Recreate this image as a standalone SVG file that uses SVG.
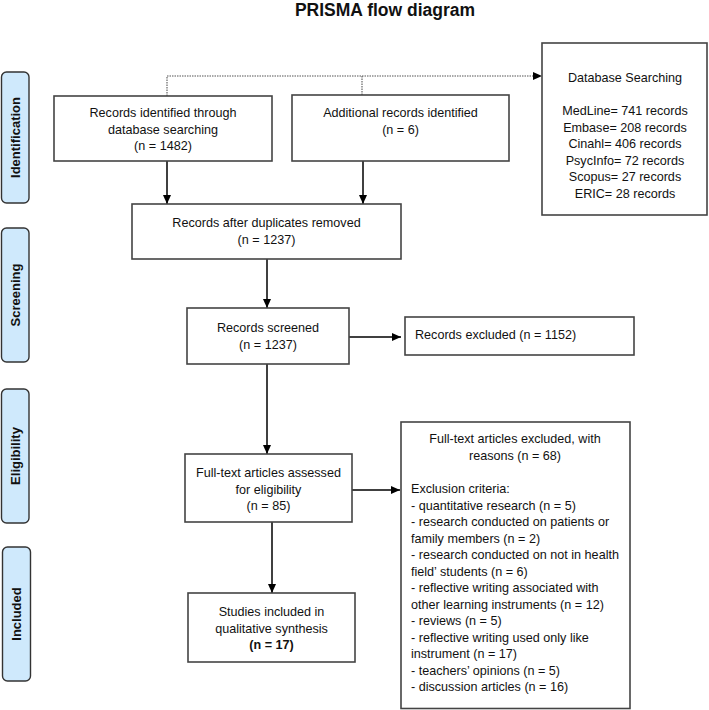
<svg xmlns="http://www.w3.org/2000/svg" width="709" height="710" viewBox="0 0 709 710">
<defs>
<marker id="ah" markerUnits="userSpaceOnUse" markerWidth="9" markerHeight="8" refX="9" refY="4" orient="auto">
<path d="M0,0 L9,4 L0,8 z" fill="#000"/>
</marker>
<style>
.box{fill:#fff;stroke:#444;stroke-width:1.6}
.side{fill:#cfe9fc;stroke:#333;stroke-width:1.4}
.t{font-family:"Liberation Sans",Arial,sans-serif;font-size:12.6px;fill:#111}
.c{text-anchor:middle}
.sl{font-family:"Liberation Sans",Arial,sans-serif;font-size:13px;font-weight:bold;fill:#111;text-anchor:middle}
.arr{stroke:#000;stroke-width:1.5;fill:none;marker-end:url(#ah)}
.dot{stroke:#555;stroke-width:1.1;fill:none;stroke-dasharray:1.5 1}
</style>
</defs>
<rect width="709" height="710" fill="#fff"/>
<text x="385" y="16" font-family="Liberation Sans,Arial,sans-serif" font-size="17.5" font-weight="bold" fill="#111" text-anchor="middle">PRISMA flow diagram</text>

<g id="side-identification"><rect class="side" x="1.5" y="72" width="27.5" height="131" rx="5"/><text class="sl" transform="translate(20,137.5) rotate(-90)">Identification</text></g>
<g id="side-screening"><rect class="side" x="1.5" y="228" width="27.5" height="134" rx="5"/><text class="sl" transform="translate(20,295) rotate(-90)">Screening</text></g>
<g id="side-eligibility"><rect class="side" x="1.5" y="389" width="27.5" height="134" rx="5"/><text class="sl" transform="translate(20,456) rotate(-90)">Eligibility</text></g>
<g id="side-included"><rect class="side" x="2.5" y="547" width="28" height="134" rx="5"/><text class="sl" transform="translate(21,614) rotate(-90)">Included</text></g>

<g id="connectors">
<path class="dot" d="M167,96 V76 H538"/>
<path class="dot" d="M362,95 V76"/>
<path d="M533,72 L542,76 L533,80 z" fill="#000"/>
<path class="arr" d="M167,161 V204"/>
<path class="arr" d="M363,161 V204"/>
<path class="arr" d="M267,259 V308"/>
<path class="arr" d="M349,337 H401"/>
<path class="arr" d="M267,364 V454"/>
<path class="arr" d="M352,490 H400"/>
<path class="arr" d="M272,522 V593"/>
</g>

<g id="n-db-search"><rect class="box" x="54" y="96" width="218" height="65"/>
<text class="t c" x="163" y="117">Records identified through</text>
<text class="t c" x="163" y="133.5">database searching</text>
<text class="t c" x="163" y="150">(n = 1482)</text></g>

<g id="n-additional"><rect class="box" x="292" y="95" width="217" height="66"/>
<text class="t c" x="400.5" y="117">Additional records identified</text>
<text class="t c" x="400.5" y="133.5">(n = 6)</text></g>

<g id="n-databases"><rect class="box" x="542" y="43" width="165" height="172"/>
<text class="t c" x="625" y="82">Database Searching</text>
<text class="t c" x="625" y="115">MedLine= 741 records</text>
<text class="t c" x="625" y="131.5">Embase= 208 records</text>
<text class="t c" x="625" y="148">Cinahl= 406 records</text>
<text class="t c" x="625" y="164.5">PsycInfo= 72 records</text>
<text class="t c" x="625" y="181">Scopus= 27 records</text>
<text class="t c" x="625" y="197.5">ERIC= 28 records</text></g>

<g id="n-dedup"><rect class="box" x="132" y="204" width="269" height="55"/>
<text class="t c" x="266.5" y="227">Records after duplicates removed</text>
<text class="t c" x="266.5" y="243.5">(n = 1237)</text></g>

<g id="n-screened"><rect class="box" x="187" y="308" width="162" height="56"/>
<text class="t c" x="268" y="332">Records screened</text>
<text class="t c" x="268" y="348.5">(n = 1237)</text></g>

<g id="n-excluded"><rect class="box" x="405" y="317" width="229" height="38"/>
<text class="t" x="415" y="339">Records excluded (n = 1152)</text></g>

<g id="n-fulltext"><rect class="box" x="185" y="454" width="167" height="68"/>
<text class="t c" x="268.5" y="477">Full-text articles assessed</text>
<text class="t c" x="268.5" y="493.5">for eligibility</text>
<text class="t c" x="268.5" y="510">(n = 85)</text></g>

<g id="n-ft-excluded"><rect class="box" x="401" y="422" width="229" height="286.5"/>
<text class="t c" x="515" y="443">Full-text articles excluded, with</text>
<text class="t c" x="515" y="459.5">reasons (n = 68)</text>
<text class="t" x="411" y="493">Exclusion criteria:</text>
<text class="t" x="411" y="509.5">- quantitative research (n = 5)</text>
<text class="t" x="411" y="526">- research conducted on patients or</text>
<text class="t" x="411" y="542.5">family members (n = 2)</text>
<text class="t" x="411" y="559">- research conducted on not in health</text>
<text class="t" x="411" y="575.5">field’ students (n = 6)</text>
<text class="t" x="411" y="592">- reflective writing associated with</text>
<text class="t" x="411" y="608.5">other learning instruments (n = 12)</text>
<text class="t" x="411" y="625">- reviews (n = 5)</text>
<text class="t" x="411" y="641.5">- reflective writing used only like</text>
<text class="t" x="411" y="658">instrument (n = 17)</text>
<text class="t" x="411" y="674.5">- teachers’ opinions (n = 5)</text>
<text class="t" x="411" y="691">- discussion articles (n = 16)</text></g>

<g id="n-included"><rect class="box" x="188" y="593" width="167" height="69"/>
<text class="t c" x="271.5" y="616">Studies included in</text>
<text class="t c" x="271.5" y="632.5">qualitative synthesis</text>
<text class="t c" x="271.5" y="649" font-weight="bold">(n = 17)</text></g>
</svg>
